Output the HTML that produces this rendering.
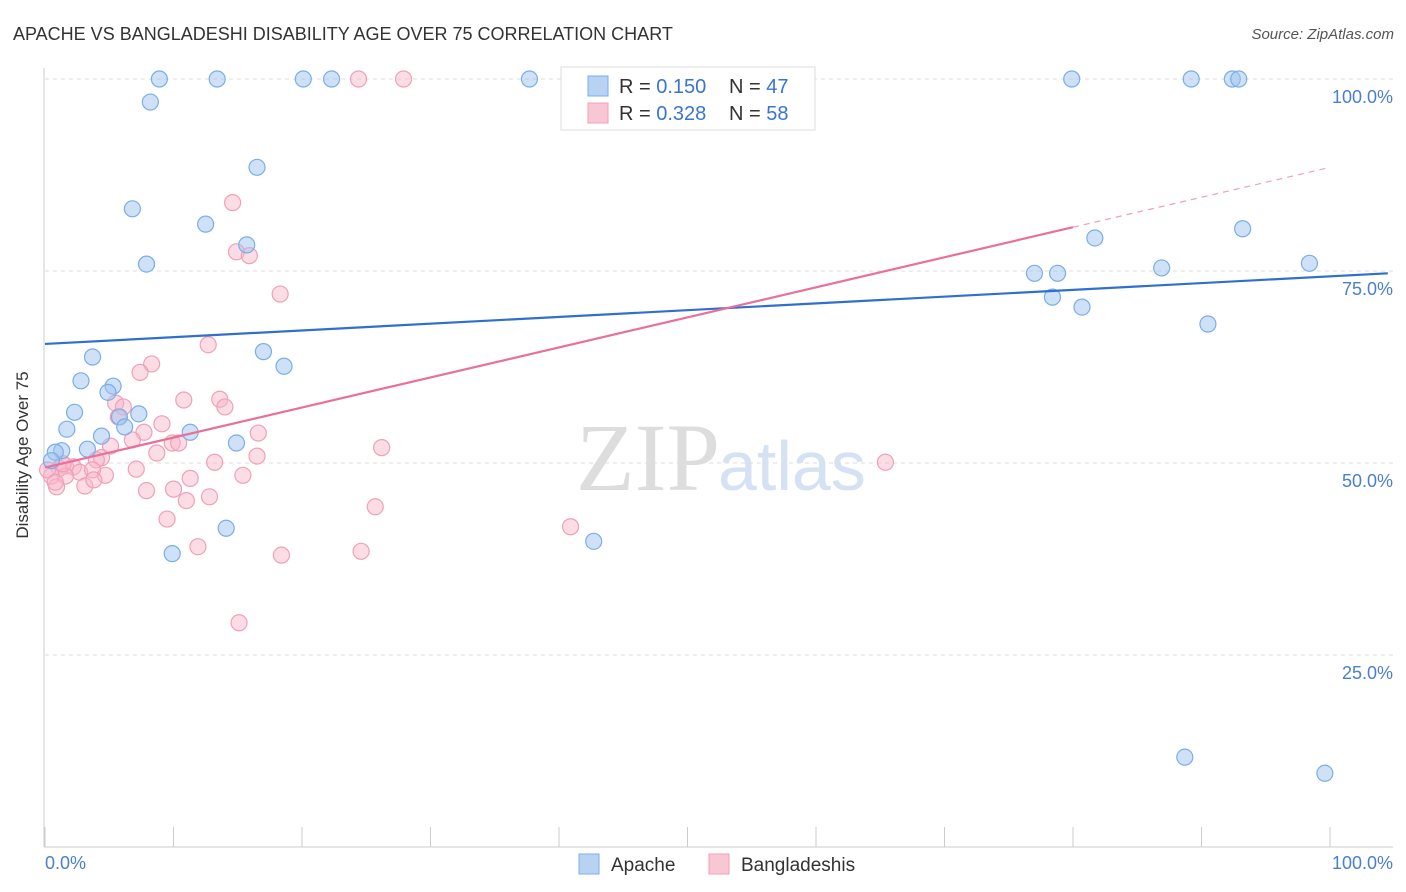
<!DOCTYPE html>
<html><head><meta charset="utf-8"><style>
body{margin:0;background:#fff;font-family:"Liberation Sans",sans-serif;}
svg{display:block}
</style></head><body>
<svg id="c" width="1406" height="892" xmlns="http://www.w3.org/2000/svg">
<text x="13" y="40" font-size="18" fill="#333">APACHE VS BANGLADESHI DISABILITY AGE OVER 75 CORRELATION CHART</text>
<text x="1394" y="39" font-size="15" fill="#555" font-style="italic" text-anchor="end">Source: ZipAtlas.com</text>
<text x="720" y="490" font-size="96" fill="#ddd" text-anchor="end" font-family="Liberation Serif">ZIP</text>
<text x="718" y="490" font-size="70" fill="#d4e2f4">atlas</text>
<g id="grid"></g>
<line x1="44" y1="68" x2="44" y2="847" stroke="#ccc"/>
<line x1="44" y1="847" x2="1393" y2="847" stroke="#ccc"/>
<text x="28" y="455" font-size="17" fill="#333" text-anchor="middle" transform="rotate(-90 28 455)">Disability Age Over 75</text>
<text x="45" y="869" font-size="18" fill="#4a7fd0">0.0%</text>
<text x="1393" y="869" font-size="18" fill="#4a7fd0" text-anchor="end">100.0%</text>
<g id="pts"></g>
<g id="trends"></g>
<g>
<rect x="561" y="67" width="254" height="63" fill="#fff" stroke="#ddd"/>
<rect x="588" y="76" width="20" height="20" fill="#b8d2f4" stroke="#7aaee8"/>
<rect x="588" y="103" width="20" height="20" fill="#f9c6d4" stroke="#f0a0b8"/>
<text x="619" y="93" font-size="20" fill="#333">R = <tspan fill="#3a74d0">0.150</tspan></text>
<text x="729" y="93" font-size="20" fill="#333">N = <tspan fill="#3a74d0">47</tspan></text>
<text x="619" y="120" font-size="20" fill="#333">R = <tspan fill="#3a74d0">0.328</tspan></text>
<text x="729" y="120" font-size="20" fill="#333">N = <tspan fill="#3a74d0">58</tspan></text>
</g>
<g>
<rect x="579" y="854" width="20" height="20" fill="#b8d2f4" stroke="#7aaee8"/>
<text x="611" y="871" font-size="19" fill="#333">Apache</text>
<rect x="709" y="854" width="20" height="20" fill="#f9c6d4" stroke="#f0a0b8"/>
<text x="741" y="871" font-size="19" fill="#333">Bangladeshis</text>
</g>
</svg>
<script>
const yTicks=[100,75,50,25];
const yTickLabels=["100.0%","75.0%","50.0%","25.0%"];
const xTicks=[0,10,20,30,40,50,60,70,80,90,100];
const apacheX=[8.9,13.4,20.1,22.3,37.7,79.9,89.2,92.4,92.9,8.2,16.5,6.8,12.5,15.7,7.9,81.7,93.2,77.0,78.8,86.9,98.4,78.4,80.7,90.5,17.0,18.6,3.7,2.8,5.3,4.9,2.3,7.3,1.7,5.8,6.2,4.4,11.3,14.9,3.3,1.3,0.8,0.5,14.1,9.9,42.7,88.7,99.6];
const apacheY=[100,100,100,100,100,100,100,100,100,97.0,88.5,83.1,81.1,78.4,75.9,79.3,80.5,74.7,74.7,75.4,76.0,71.6,70.3,68.1,64.5,62.6,63.8,60.7,60.0,59.2,56.6,56.4,54.4,56.0,54.7,53.5,54.0,52.6,51.8,51.6,51.4,50.3,41.5,38.2,39.8,11.7,9.6];
const bangX=[24.4,27.9,53.1,14.6,14.9,15.9,18.3,12.7,8.3,7.4,10.8,13.6,14.0,5.5,6.1,9.1,7.7,6.8,9.9,10.4,5.7,16.6,16.5,5.1,8.7,4.4,4.0,13.2,26.2,7.1,1.6,2.2,1.1,2.7,4.7,3.7,15.4,11.3,1.6,0.5,0.9,3.1,3.8,7.9,10.0,12.8,11.0,25.7,9.5,40.9,11.9,18.4,24.6,15.1,65.4,0.2,0.8,1.4];
const bangY=[100,100,100,83.9,77.5,77.0,72.0,65.4,62.9,61.8,58.2,58.3,57.3,57.8,57.3,55.1,54.0,53.0,52.6,52.6,56.0,53.9,50.9,52.2,51.3,50.7,50.4,50.1,52.0,49.2,49.6,49.5,49.3,48.8,48.4,49.1,48.4,48.0,48.3,48.3,46.9,47.0,47.8,46.4,46.6,45.6,45.1,44.3,42.7,41.7,39.1,38.0,38.5,29.2,50.1,49.1,47.5,49.9];
const apacheTrend=[65.5,74.7]; // at x=0 and x=104.5
const bangTrend=[49.4,80.7,88.5]; // at x=0, 80, 100
const NS="http://www.w3.org/2000/svg";
const sx=v=>45+v*12.85, sy=v=>847-v*7.68;
function mk(t,a,p){const e=document.createElementNS(NS,t);for(const k in a)e.setAttribute(k,a[k]);p.appendChild(e);return e;}
const grid=document.getElementById('grid');
yTicks.forEach((t,i)=>{
 const l=mk('line',{x1:45,x2:1393,y1:sy(t),y2:sy(t),stroke:'#ddd','stroke-dasharray':'4,4'},grid);
 
 
 const tx=mk('text',{x:1393,y:sy(t)+24,'font-size':18,fill:'#4a7fd0','text-anchor':'end'},grid);
 tx.textContent=yTickLabels[i];
 
 
});
xTicks.forEach(t=>{
 const l=mk('line',{x1:sx(t),x2:sx(t),y1:827,y2:847,stroke:'#ccc'},grid);
 
 
});
const pts=document.getElementById('pts');
bangX.forEach((x,i)=>{
 const c=mk('circle',{cx:sx(x),cy:sy(bangY[i]),r:8,fill:'rgba(248,180,200,0.45)',stroke:'#f0a0b8','stroke-width':1.2},pts);
 
 
});
apacheX.forEach((x,i)=>{
 const c=mk('circle',{cx:sx(x),cy:sy(apacheY[i]),r:8,fill:'rgba(160,196,240,0.5)',stroke:'#7aaee8','stroke-width':1.2},pts);
 
 
});
const tr=document.getElementById('trends');
let a=mk('line',{x1:sx(0),y1:sy(apacheTrend[0]),x2:sx(104.5),y2:sy(apacheTrend[1]),stroke:'#2f6fd0','stroke-width':2.2},tr);


let b=mk('line',{x1:sx(0),y1:sy(bangTrend[0]),x2:sx(80),y2:sy(bangTrend[1]),stroke:'#e8709a','stroke-width':2.2},tr);


let d=mk('line',{x1:sx(80),y1:sy(bangTrend[1]),x2:sx(100),y2:sy(bangTrend[2]),stroke:'#f0a0b8','stroke-width':1.2,'stroke-dasharray':'6,5'},tr);


</script>
</body></html>
